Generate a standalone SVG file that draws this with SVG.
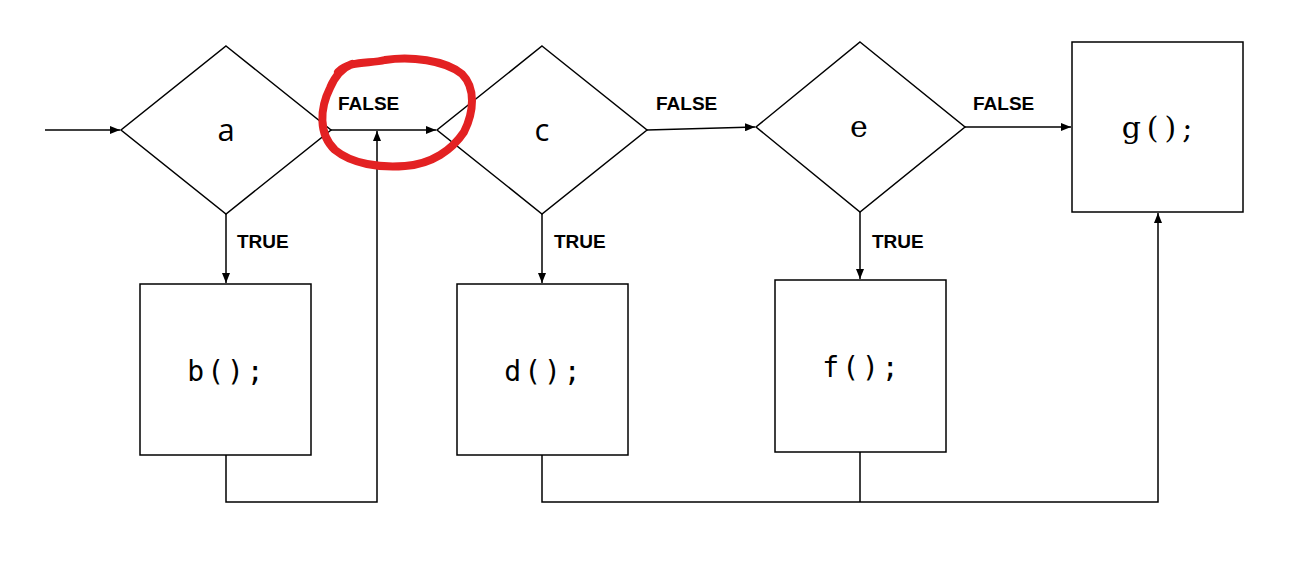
<svg xmlns="http://www.w3.org/2000/svg" width="1294" height="576" viewBox="0 0 1294 576">
<style>
.shape{fill:#fff;stroke:#000;stroke-width:1.5}
.conn{fill:none;stroke:#000;stroke-width:1.5}
.lbl{font-family:"Liberation Sans",Arial,sans-serif;font-weight:bold;font-size:19px;fill:#000}
.cond{font-family:"Open Sans","DejaVu Sans",sans-serif;font-size:31px;fill:#000;text-anchor:middle}
.code{font-family:"DejaVu Sans Mono",monospace;font-size:28px;fill:#000;text-anchor:middle;letter-spacing:3px}
.code2{font-family:"DejaVu Serif",serif;font-size:30px;fill:#000;text-anchor:middle;letter-spacing:6px}
</style>
<defs>
<marker id="ah" markerWidth="10" markerHeight="8" refX="10" refY="4" orient="auto" markerUnits="userSpaceOnUse">
<path d="M0,0 L10,4 L0,8 z" fill="#000"/>
</marker>
</defs>
<rect width="1294" height="576" fill="#fff"/>
<g id="node-a"><polygon class="shape" points="226,46 331,130 226,214 121,130"/><text class="cond" x="226" y="141">a</text></g>
<g id="node-c"><polygon class="shape" points="542,46 647,130 542,214 437,130"/><text class="cond" x="542" y="141">c</text></g>
<g id="node-e"><polygon class="shape" points="860,42 965,127 860,212 756,127"/><text class="code2" x="862" y="137">e</text></g>
<g id="node-g"><rect class="shape" x="1072" y="42" width="171" height="170"/><text class="code2" x="1160" y="138">g();</text></g>
<g id="node-b"><rect class="shape" x="140" y="284" width="171" height="171"/><text class="code" x="227" y="381">b();</text></g>
<g id="node-d"><rect class="shape" x="457" y="284" width="171" height="171"/><text class="code" x="544" y="381">d();</text></g>
<g id="node-f"><rect class="shape" x="775" y="280" width="171" height="172"/><text class="code" x="862" y="377">f();</text></g>
<g id="connectors">
<line class="conn" x1="45" y1="130" x2="120" y2="130" marker-end="url(#ah)"/>
<line class="conn" x1="331" y1="130" x2="436" y2="130" marker-end="url(#ah)"/>
<line class="conn" x1="647" y1="130" x2="755" y2="127" marker-end="url(#ah)"/>
<line class="conn" x1="965" y1="127" x2="1071" y2="127" marker-end="url(#ah)"/>
<line class="conn" x1="226" y1="214" x2="226" y2="283" marker-end="url(#ah)"/>
<line class="conn" x1="542" y1="214" x2="542" y2="283" marker-end="url(#ah)"/>
<line class="conn" x1="860" y1="212" x2="860" y2="279" marker-end="url(#ah)"/>
<polyline class="conn" points="226,455 226,502 377,502 377,131" marker-end="url(#ah)"/>
<polyline class="conn" points="542,455 542,502 1158,502 1158,213" marker-end="url(#ah)"/>
<line class="conn" x1="860" y1="452" x2="860" y2="502"/>
</g>
<g id="labels">
<text class="lbl" x="338" y="110">FALSE</text>
<text class="lbl" x="656" y="110">FALSE</text>
<text class="lbl" x="973" y="110">FALSE</text>
<text class="lbl" x="237" y="248">TRUE</text>
<text class="lbl" x="554" y="248">TRUE</text>
<text class="lbl" x="872" y="248">TRUE</text>
</g>
<path d="M338,72 C350,60 370,64 385,60 C410,56 445,60 462,74 C476,88 474,112 464,132 C452,150 432,164 405,166 C380,168 352,164 335,150 C318,134 320,108 330,88 C335,76 342,68 352,64" fill="none" stroke="#e32122" stroke-width="8" stroke-linecap="round"/>
</svg>
